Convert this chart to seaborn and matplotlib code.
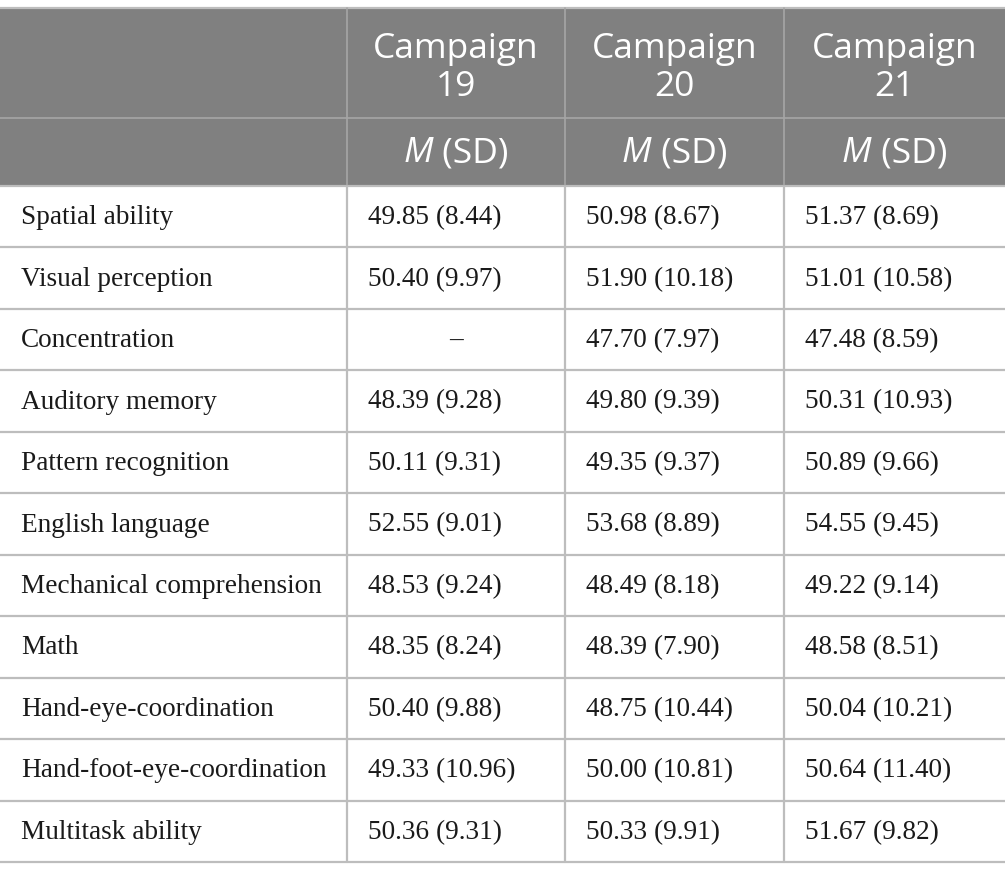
import matplotlib
matplotlib.use("Agg")
import matplotlib.pyplot as plt
import seaborn as sns
import numpy as np

# table contents
skills = ["Spatial ability", "Visual perception", "Concentration", "Auditory memory",
          "Pattern recognition", "English language", "Mechanical comprehension", "Math",
          "Hand-eye-coordination", "Hand-foot-eye-coordination", "Multitask ability"]
campaigns = ["Campaign\n19", "Campaign\n20", "Campaign\n21"]
mean_19 = [49.85, 50.40, None, 48.39, 50.11, 52.55, 48.53, 48.35, 50.40, 49.33, 50.36]
sd_19 = [8.44, 9.97, None, 9.28, 9.31, 9.01, 9.24, 8.24, 9.88, 10.96, 9.31]
mean_20 = [50.98, 51.90, 47.70, 49.80, 49.35, 53.68, 48.49, 48.39, 48.75, 50.00, 50.33]
sd_20 = [8.67, 10.18, 7.97, 9.39, 9.37, 8.89, 8.18, 7.90, 10.44, 10.81, 9.91]
mean_21 = [51.37, 51.01, 47.48, 50.31, 50.89, 54.55, 49.22, 48.58, 50.04, 50.64, 51.67]
sd_21 = [8.69, 10.58, 8.59, 10.93, 9.66, 9.45, 9.14, 8.51, 10.21, 11.40, 9.82]

sns.set_theme(style="white")
plt.rcParams['font.family'] = ['Liberation Serif', 'DejaVu Serif']

W, H = 1005, 880
fig = plt.figure(figsize=(W / 100, H / 100), dpi=100)
ax = fig.add_axes([0, 0, 1, 1])
ax.set_xlim(0, W)
ax.set_ylim(H, 0)
ax.axis('off')

header_fill = "#808080"
line_col = "#bdbdbd"
head_line = "#a6a6a6"

col_edges = [0, 347, 565, 784, W]
top, h1, h2 = 8, 118, 186
row_h = (862 - h2) / len(skills)
row_edges = [h2 + i * row_h for i in range(len(skills) + 1)]

# header background
ax.axhspan(top, h2, color=header_fill, lw=0, zorder=0)
ax.axhline(top, color=line_col, lw=1.6, zorder=2)
ax.axhline(h1, color=head_line, lw=1.2, zorder=2)
for y in row_edges:
    ax.axhline(y, color=line_col, lw=1.6, zorder=2)
for x in col_edges[1:-1]:
    ax.plot([x, x], [top, h2], color=head_line, lw=1.2, zorder=2)
    ax.plot([x, x], [h2, row_edges[-1]], color=line_col, lw=1.6, zorder=2)

hfont = ['Open Sans', 'DejaVu Sans']
hfs = 25.5
renderer = fig.canvas.get_renderer()
for j, name in enumerate(campaigns):
    cx = (col_edges[j + 1] + col_edges[j + 2]) / 2
    ax.text(cx, (top + h1) / 2 + 5, name, ha='center', va='center', color='white',
            fontsize=hfs, family=hfont, linespacing=1.18)
    # "M (SD)" with italic M
    t1 = ax.text(0, 0, "M", fontsize=hfs, family=hfont, style='italic')
    t2 = ax.text(0, 0, " (SD)", fontsize=hfs, family=hfont)
    w1 = t1.get_window_extent(renderer).width
    w2 = t2.get_window_extent(renderer).width
    t1.remove(); t2.remove()
    x0 = cx - (w1 + w2) / 2
    yc = (h1 + h2) / 2 + 1
    ax.text(x0, yc, "M", ha='left', va='center', color='white', fontsize=hfs,
            family=hfont, style='italic')
    ax.text(x0 + w1, yc, " (SD)", ha='left', va='center', color='white',
            fontsize=hfs, family=hfont)

fs = 19.6
for i, skill in enumerate(skills):
    yc = (row_edges[i] + row_edges[i + 1]) / 2 + 1
    ax.text(21, yc, skill, ha='left', va='center', fontsize=fs, color='#1a1a1a')
    for j, (m, s) in enumerate([(mean_19, sd_19), (mean_20, sd_20), (mean_21, sd_21)]):
        if m[i] is None:
            cx = (col_edges[j + 1] + col_edges[j + 2]) / 2
            ax.text(cx, yc, "–", ha='center', va='center', fontsize=fs, color='#1a1a1a')
        else:
            ax.text(col_edges[j + 1] + 21, yc, f"{m[i]:.2f} ({s[i]:.2f})", ha='left',
                    va='center', fontsize=fs, color='#1a1a1a')

fig.savefig("out.png", dpi=100, facecolor='white')
